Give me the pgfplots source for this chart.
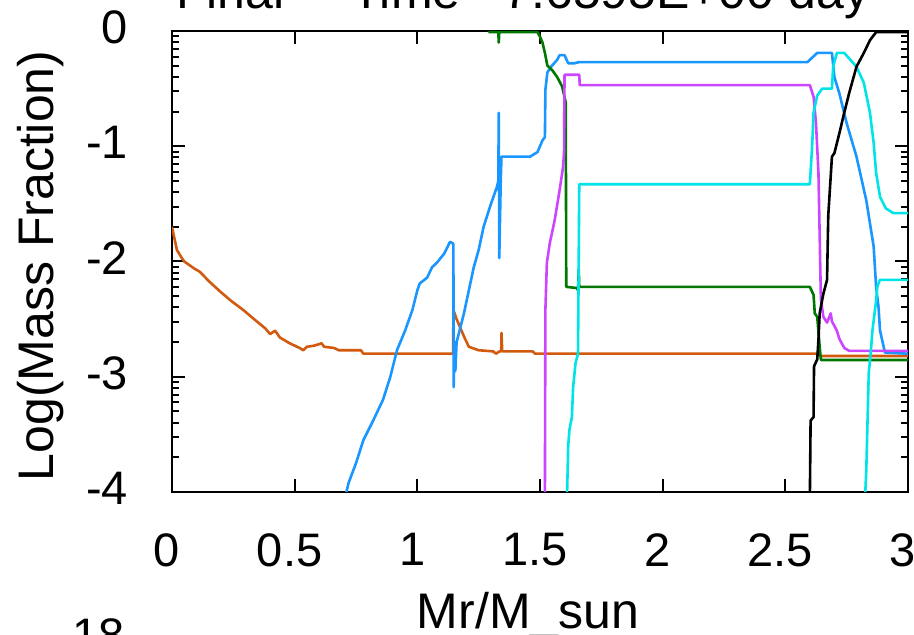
\documentclass[border=0pt]{standalone}
\usepackage{pgfplots}
\pgfplotsset{compat=1.18}
\usepackage{fontspec}
\setmainfont{Liberation Sans}
\definecolor{corange}{RGB}{210,90,15}
\definecolor{cblue}{RGB}{25,150,255}
\definecolor{cgreen}{RGB}{0,120,0}
\definecolor{cpurple}{RGB}{205,70,255}
\definecolor{ccyan}{RGB}{0,228,232}
\newcommand{\bigf}{\fontsize{50}{58}\selectfont}
\newcommand{\tickf}{\fontsize{47}{54}\selectfont}
\begin{document}
\begin{tikzpicture}[x=1pt,y=1pt]
\path[use as bounding box] (0,0) rectangle (914,635);
\clip (0,0) rectangle (914,635);
\begin{axis}[
  at={(172pt,143pt)}, anchor=south west,
  width=736pt, height=461pt, scale only axis,
  xmin=0, xmax=3, ymin=-4, ymax=0,
  xtick={0,0.5,1,1.5,2,2.5,3},
  xticklabels={0,0.5,1,1.5,2,2.5,3},
  ytick={-4,-3,-2,-1,0},
  yticklabels={-4,-3,-2,-1,0},
  minor ytick={-3.699,-3.523,-3.398,-3.301,-3.222,-3.155,-3.097,-3.046,
               -2.699,-2.523,-2.398,-2.301,-2.222,-2.155,-2.097,-2.046,
               -1.699,-1.523,-1.398,-1.301,-1.222,-1.155,-1.097,-1.046,
               -0.699,-0.523,-0.398,-0.301,-0.222,-0.155,-0.097,-0.046},
  tick align=inside,
  major tick length=13pt, minor tick length=7pt,
  tick style={black, line width=2pt},
  axis line style={line width=2.5pt},
  xticklabel style={font=\tickf, anchor=north, inner sep=0pt, yshift=-41pt, xshift=-5pt},
  yticklabel style={font=\tickf, anchor=east, inner sep=0pt, xshift=-44pt, yshift=3.5pt},
  every axis plot/.append style={line width=2.6pt, line join=round},
]
\addplot[corange] coordinates {
(0,-1.70) (0.01,-1.80) (0.02,-1.90) (0.04,-1.97) (0.05,-2.00) (0.07,-2.03)
(0.09,-2.06) (0.114,-2.09) (0.15,-2.17) (0.196,-2.26) (0.24,-2.34) (0.29,-2.42)
(0.34,-2.51) (0.38,-2.58) (0.40,-2.63) (0.42,-2.60) (0.44,-2.66) (0.48,-2.71)
(0.52,-2.75) (0.535,-2.77) (0.55,-2.74) (0.58,-2.73) (0.61,-2.71) (0.62,-2.74)
(0.66,-2.75) (0.68,-2.77) (0.77,-2.77) (0.78,-2.80) (1.146,-2.80) (1.147,-2.42)
(1.16,-2.50) (1.17,-2.55) (1.19,-2.65) (1.21,-2.74) (1.25,-2.77) (1.31,-2.78)
(1.32,-2.80) (1.335,-2.78) (1.342,-2.78) (1.343,-2.62) (1.346,-2.78) (1.47,-2.78)
(1.48,-2.80) (2.63,-2.80) (2.64,-2.82) (3,-2.82)};
\addplot[cblue] coordinates {
(0.705,-4.05) (0.72,-3.92) (0.75,-3.75) (0.78,-3.55) (0.82,-3.38) (0.86,-3.20)
(0.89,-3.00) (0.917,-2.77) (0.95,-2.60) (0.98,-2.42) (1.00,-2.25) (1.01,-2.19)
(1.04,-2.14) (1.06,-2.05) (1.08,-2.01) (1.11,-1.93) (1.133,-1.83) (1.143,-1.84)
(1.147,-1.85) (1.148,-3.09) (1.152,-2.70) (1.155,-2.95) (1.16,-2.70) (1.19,-2.45)
(1.21,-2.25) (1.23,-2.05) (1.25,-1.90) (1.27,-1.70) (1.30,-1.50) (1.325,-1.35)
(1.330,-1.30) (1.332,-0.71) (1.334,-1.97) (1.340,-1.30) (1.343,-1.09) (1.46,-1.09)
(1.49,-1.05) (1.51,-0.95) (1.52,-0.92) (1.522,-0.51) (1.53,-0.36) (1.545,-0.31)
(1.57,-0.25) (1.58,-0.21) (1.60,-0.21) (1.615,-0.28) (1.64,-0.28) (1.66,-0.27)
(2.59,-0.27) (2.61,-0.23) (2.63,-0.19) (2.69,-0.19) (2.70,-0.40) (2.72,-0.54)
(2.75,-0.80) (2.79,-1.09) (2.83,-1.47) (2.86,-1.87) (2.87,-2.22) (2.88,-2.40)
(2.886,-2.60) (2.906,-2.79) (3,-2.80)};
\addplot[cgreen] coordinates {
(1.29,-0.01) (1.33,-0.01) (1.332,-0.10) (1.334,-0.01) (1.49,-0.01) (1.50,-0.05)
(1.51,-0.10) (1.52,-0.19) (1.53,-0.30) (1.55,-0.34) (1.57,-0.40) (1.59,-0.48)
(1.605,-0.62) (1.607,-2.22) (1.65,-2.23) (1.655,-2.25) (1.658,-2.07) (1.66,-2.22)
(2.60,-2.22) (2.615,-2.29) (2.62,-2.45) (2.63,-2.48) (2.64,-2.74) (2.645,-2.855)
(3,-2.855)};
\addplot[cpurple] coordinates {
(1.52,-4.05) (1.522,-2.42) (1.528,-2.01) (1.54,-1.84) (1.56,-1.64) (1.58,-1.38)
(1.594,-1.18) (1.598,-1.05) (1.600,-0.38) (1.66,-0.38) (1.662,-0.47) (2.60,-0.47)
(2.615,-0.57) (2.625,-0.80) (2.635,-1.23) (2.645,-2.33) (2.655,-2.48) (2.67,-2.53)
(2.685,-2.45) (2.69,-2.52) (2.71,-2.60) (2.72,-2.67) (2.74,-2.75) (2.76,-2.775)
(3,-2.775)};
\addplot[ccyan] coordinates {
(1.61,-4.05) (1.615,-3.60) (1.62,-3.46) (1.63,-3.35) (1.635,-3.09) (1.645,-2.88)
(1.655,-2.80) (1.66,-1.33) (2.60,-1.33) (2.61,-0.97) (2.615,-0.71) (2.63,-0.56)
(2.65,-0.50) (2.69,-0.50) (2.695,-0.31) (2.71,-0.19) (2.74,-0.19) (2.79,-0.31)
(2.82,-0.45) (2.845,-0.71) (2.86,-0.97) (2.87,-1.23) (2.886,-1.44) (2.91,-1.54)
(2.94,-1.58) (3,-1.58)};
\addplot[ccyan] coordinates {
(2.825,-4.05) (2.83,-3.81) (2.84,-2.97) (2.85,-2.74) (2.855,-2.60) (2.87,-2.34)
(2.875,-2.22) (2.885,-2.16) (3,-2.16)};
\addplot[black] coordinates {
(2.60,-4.05) (2.603,-3.38) (2.615,-3.35) (2.617,-2.91) (2.63,-2.85) (2.635,-2.68)
(2.64,-2.45) (2.655,-2.28) (2.67,-2.16) (2.675,-1.60) (2.69,-1.09) (2.70,-1.06)
(2.72,-0.89) (2.74,-0.71) (2.76,-0.54) (2.79,-0.31) (2.82,-0.19) (2.845,-0.08)
(2.87,-0.01) (3,-0.01)};
\end{axis}
\node[font=\bigf, anchor=base west, inner sep=0pt] at (176,626.5) {Final};
\node[font=\bigf, anchor=base west, inner sep=0pt] at (351,626.5) {Time= 7.6595E+00 day};
\node[font=\bigf, anchor=base, inner sep=0pt] at (528,6) {Mr/M\_sun};
\node[font=\bigf, anchor=base, inner sep=0pt, rotate=90] at (53,369) {Log(Mass Fraction)};
\node[font=\tickf, anchor=base west, inner sep=0pt] at (72,-17) {18};
\end{tikzpicture}
\end{document}
